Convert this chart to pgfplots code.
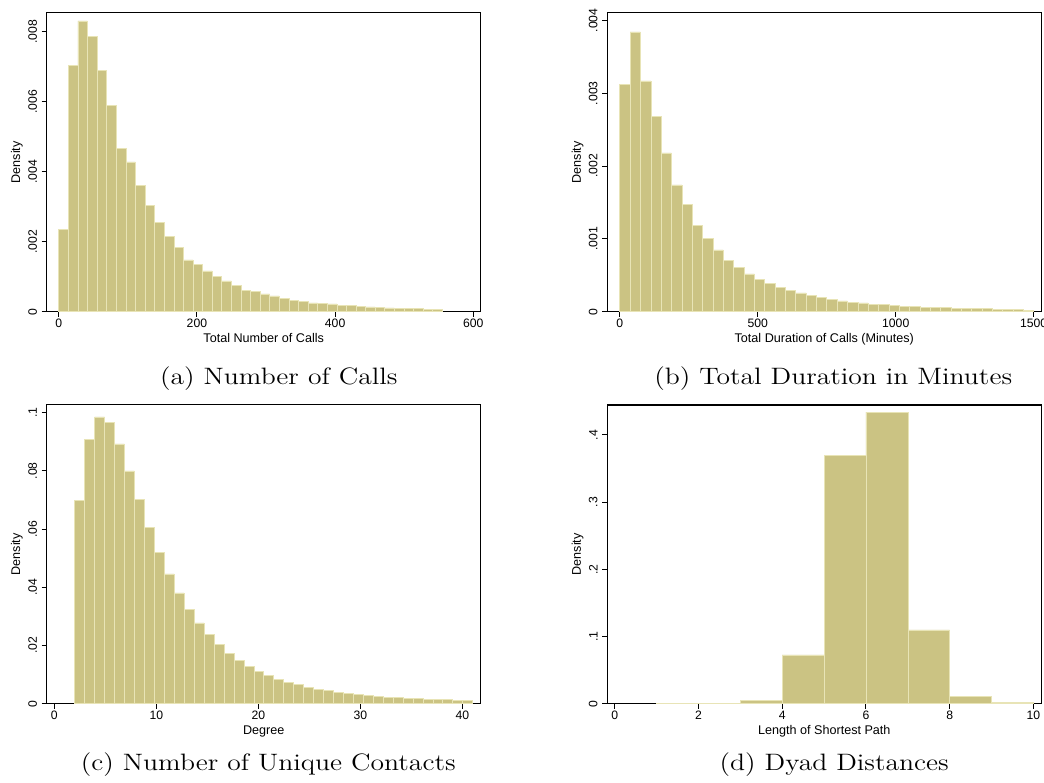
\documentclass[border=0pt]{standalone}
\usepackage{fontspec}
\usepackage{pgfplots}
\pgfplotsset{compat=1.18}
\newfontfamily\arial{Liberation Sans}
\definecolor{barfill}{RGB}{203,195,131}
\definecolor{baredge}{RGB}{232,228,182}
\pgfplotsset{
  statahist/.style={
    scale only axis, width=217pt, height=149.4pt,
    axis line style={black, line width=0.6pt},
    tick align=outside, xtick pos=bottom, ytick pos=left,
    major tick length=2.5pt, tick style={black, line width=0.5pt},
    ymin=0, scaled y ticks=false, scaled x ticks=false,
    /pgf/number format/assume math mode=true,
    tick label style={font=\arial\fontsize{6.1}{7}\selectfont},
    xticklabel style={anchor=north, inner sep=0pt, outer sep=1.1pt},
    yticklabel style={rotate=90, anchor=south, inner sep=0pt, outer sep=2.4pt},
    every axis x label/.style={at={(axis description cs:0.5,-0.0722)}, anchor=north, inner sep=0pt, font=\arial\fontsize{6.3}{7.5}\selectfont},
    every axis y label/.style={at={(axis description cs:-0.054,0.5)}, rotate=90, anchor=south, inner sep=0pt, font=\arial\fontsize{6.3}{7.5}\selectfont},
    ylabel=Density,
  },
  histbar/.style={ybar interval=1, fill=barfill, draw=baredge, line width=0.25pt},
}
\newcommand\subcap[1]{\fontsize{13.8}{16}\selectfont\scalebox{1}[0.86]{#1}}
\begin{document}
\begin{tikzpicture}
\path[use as bounding box] (0,0) rectangle (522pt,391pt);
% (a)
\begin{axis}[statahist, at={(23.35pt,235.15pt)}, anchor=south west,
  xmin=-17.4, xmax=610.7, ymax=0.00854,
  xtick={0,200,400,600}, xticklabels={0,200,400,600},
  ytick={0,0.002,0.004,0.006,0.008}, yticklabels={0,.002,.004,.006,.008},
  xlabel={Total Number of Calls}]
\addplot[histbar] coordinates {
(0,0.00236) (13.875,0.00705) (27.75,0.00831) (41.625,0.00786) (55.5,0.00690)
(69.375,0.00590) (83.25,0.00467) (97.125,0.00428) (111,0.00360) (124.875,0.00303)
(138.75,0.00256) (152.625,0.00216) (166.5,0.00184) (180.375,0.00148) (194.25,0.00136)
(208.125,0.00117) (222,0.00102) (235.875,0.00088) (249.75,0.00075) (263.625,0.00062)
(277.5,0.00058) (291.375,0.00051) (305.25,0.00045) (319.125,0.00039) (333,0.00033)
(346.875,0.00030) (360.75,0.00025) (374.625,0.00024) (388.5,0.00022) (402.375,0.00019)
(416.25,0.00017) (430.125,0.00016) (444,0.00014) (457.875,0.00012) (471.75,0.00011)
(485.625,0.00010) (499.5,0.000095) (513.375,0.000086) (527.25,0.000076) (541.125,0.000067)
(555,0.000067)};
\end{axis}
% (b)
\begin{axis}[statahist, at={(303.65pt,235.15pt)}, anchor=south west,
  xmin=-45, xmax=1527.5, ymax=0.004102,
  xtick={0,500,1000,1500}, xticklabels={0,500,1000,1500},
  ytick={0,0.001,0.002,0.003,0.004}, yticklabels={0,.001,.002,.003,.004},
  xlabel={Total Duration of Calls (Minutes)}]
\addplot[histbar] coordinates {
(0,0.00312) (37.5,0.00384) (75,0.00317) (112.5,0.00268) (150,0.00218)
(187.5,0.00174) (225,0.00147) (262.5,0.00118) (300,0.00101) (337.5,0.00085)
(375,0.00070) (412.5,0.00061) (450,0.00052) (487.5,0.00044) (525,0.00039)
(562.5,0.00033) (600,0.00029) (637.5,0.00026) (675,0.00022) (712.5,0.00020)
(750,0.00017) (787.5,0.00015) (825,0.00013) (862.5,0.00012) (900,0.000105)
(937.5,0.000096) (975,0.000087) (1012.5,0.000078) (1050,0.000073) (1087.5,0.000064)
(1125,0.00006) (1162.5,0.000055) (1200,0.00005) (1237.5,0.000046) (1275,0.000041)
(1312.5,0.000041) (1350,0.000037) (1387.5,0.000032) (1425,0.000027) (1462.5,0.000023)
(1500,0.000023)};
\end{axis}
% (c)
\begin{axis}[statahist, at={(23.35pt,39.15pt)}, anchor=south west,
  xmin=-0.75, xmax=41.8, ymax=0.10265,
  xtick={0,10,20,30,40}, xticklabels={0,10,20,30,40},
  ytick={0,0.02,0.04,0.06,0.08,0.1}, yticklabels={0,.02,.04,.06,.08,.1},
  xlabel={Degree}]
\addplot[histbar] coordinates {
(2,0.0699) (2.975,0.0908) (3.95,0.0985) (4.925,0.0966) (5.9,0.0893)
(6.875,0.0800) (7.85,0.0701) (8.825,0.0606) (9.8,0.0521) (10.775,0.0446)
(11.75,0.0381) (12.725,0.0325) (13.7,0.0278) (14.675,0.0237) (15.65,0.0205)
(16.625,0.0174) (17.6,0.0150) (18.575,0.0129) (19.55,0.0112) (20.525,0.00985)
(21.5,0.00836) (22.475,0.00745) (23.45,0.00653) (24.425,0.00573) (25.4,0.00504)
(26.375,0.00447) (27.35,0.0040) (28.325,0.00355) (29.3,0.00309) (30.275,0.00275)
(31.25,0.00252) (32.225,0.00229) (33.2,0.00206) (34.175,0.00195) (35.15,0.00172)
(36.125,0.0016) (37.1,0.00149) (38.075,0.00137) (39.05,0.00126) (40.025,0.00103)
(41,0.00103)};
\end{axis}
% (d)
\begin{axis}[statahist, at={(303.65pt,39.15pt)}, anchor=south west,
  xmin=-0.18, xmax=10.19, ymax=0.4447,
  xtick={0,2,4,6,8,10}, xticklabels={0,2,4,6,8,10},
  ytick={0,0.1,0.2,0.3,0.4}, yticklabels={0,.1,.2,.3,.4},
  xlabel={Length of Shortest Path}]
\addplot[histbar] coordinates {
(1,0.0008) (2,0.0008) (3,0.0045) (4,0.0725) (5,0.370) (6,0.434) (7,0.1097)
(8,0.0114) (9,0.002) (10,0.002)};
\end{axis}
\node[inner sep=0pt] at (139.4pt,201.75pt) {\subcap{(a) Number of Calls}};
\node[inner sep=0pt] at (416.6pt,201.75pt) {\subcap{(b) Total Duration in Minutes}};
\node[inner sep=0pt] at (134.15pt,8.5pt) {\subcap{(c) Number of Unique Contacts}};
\node[inner sep=0pt] at (417.1pt,8.5pt) {\subcap{(d) Dyad Distances}};
\end{tikzpicture}
\end{document}
